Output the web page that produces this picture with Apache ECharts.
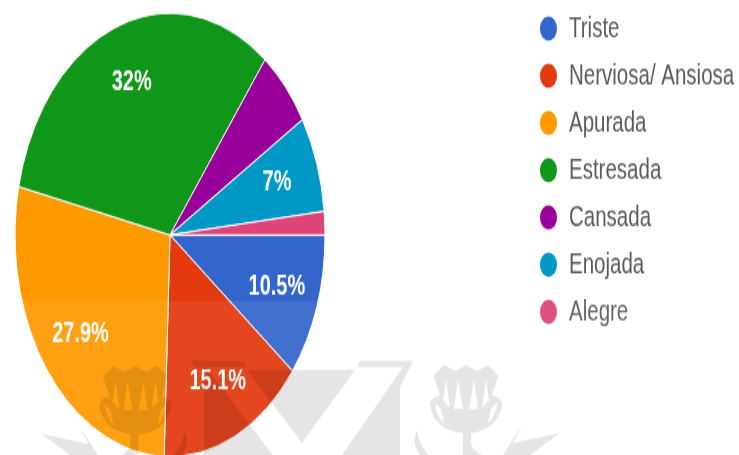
<!DOCTYPE html>
<html>
<head>
<meta charset="utf-8">
<style>
  html, body { margin: 0; padding: 0; background: #fff; overflow: hidden; }
  #frame { width: 739px; height: 455px; overflow: hidden; position: relative; }
  /* The chart is laid out at reduced height and stretched back vertically,
     which turns the pie and the legend dots into tall ellipses. */
  #chart { width: 739px; height: 318px; transform-origin: 0 0; transform: scaleY(1.4308); }
</style>
<script src="https://cdn.jsdelivr.net/npm/echarts@6/dist/echarts.min.js"></script>
</head>
<body>
<div id="frame"><div id="chart"></div></div>
<script>
const categories = ['Triste', 'Nerviosa/ Ansiosa', 'Apurada', 'Estresada', 'Cansada', 'Enojada', 'Alegre'];
const shares = [10.5, 15.1, 27.9, 32, 5.8, 7, 1.7];
const shownLabels = ['10.5%', '15.1%', '27.9%', '32%', '', '7%', ''];
const colors = ['#3366cc', '#e2390f', '#ff9900', '#109618', '#990099', '#0099c6', '#dd4477'];

const stretch = 1.4308;
const inkShade = 'rgba(0,0,0,0.1)';
const overlayZ = 100;

// Thistle emblem, centred on x = 0 with its crown at y = 0; inner subpaths wind the other way to cut holes.
const thistlePaths = {
  thistleBody:
    'M-32.5 11 L-22 0 L-11 6 L0 0 L11 6 L22 0 L32.5 11 L26 30 L33 33 L36 37 ' +
    'C36 50 28 60 19 64 C13 67 8 68 5 68 L5 78 C6 84 11 88 16 90 L-3 90 L-3 68 ' +
    'C-7 68 -13 67 -19 64 C-28 60 -36 50 -36 37 L-33 33 L-26 30 Z ' +
    'M-20 15 L-23 36 L-16 42 Z M-8 15 L-12 44 L-3 44 Z M8 15 L3 44 L12 44 Z M20 15 L16 42 L23 36 Z ' +
    'M-31 38 C-30 47 -27 53 -22 59 L-25 44 Z M31 38 L25 44 L22 59 C27 53 30 47 31 38 Z',
  thistleSprig: 'M37 90 L56 60 L47 78 L94 68 L64 90 Z',
  thistleLeaf: 'M-49 65 C-53 73 -52 82 -46 90 L-38 90 C-44 82 -48 74 -49 65 Z'
};
Object.keys(thistlePaths).forEach(name => {
  echarts.graphic.registerShape(name, echarts.graphic.extendPath(thistlePaths[name], {}));
});

function emblem(cx, top, mirrored) {
  return {
    type: 'group', x: cx, y: top, scaleX: mirrored ? -1 : 1,
    children: Object.keys(thistlePaths).map(name => ({ type: name, z: overlayZ, style: { fill: inkShade } }))
  };
}

function letterPart(points) {
  return { type: 'polygon', z: overlayZ, shape: { points }, style: { fill: inkShade } };
}

const chart = echarts.init(document.getElementById('chart'), null, { renderer: 'canvas' });
const pieCenter = [170, 164.2];
const data = categories.map((name, i) => ({ name, value: shares[i] }));

chart.setOption({
  animation: false,
  color: colors,
  legend: {
    orient: 'vertical', left: 533, top: 4.5, icon: 'circle',
    itemWidth: 19, itemHeight: 19, itemGap: 12,
    selectedMode: false,
    textStyle: { color: '#5a5a5a', fontFamily: 'Liberation Sans', fontSize: 20.5, padding: [0, 0, 0, 6] }
  },
  series: [
    {
      type: 'pie', center: pieCenter, radius: 155, startAngle: 0, clockwise: true,
      data, silent: true,
      itemStyle: { borderColor: '#fff', borderWidth: 1 },
      label: { show: false }, labelLine: { show: false }
    },
    {
      // Transparent ring used only to place the percentages near the rim.
      type: 'pie', center: pieCenter, radius: [65, 155], startAngle: 0, clockwise: true,
      data, silent: true, z: 3,
      itemStyle: { color: 'rgba(0,0,0,0)' },
      labelLine: { show: false },
      label: {
        show: true, position: 'inside', color: '#fff', fontFamily: 'Liberation Sans',
        fontSize: 20, fontWeight: 'bold',
        formatter: p => shownLabels[p.dataIndex]
      }
    }
  ],
  graphic: [{
    type: 'group', scaleY: 1 / stretch, silent: true,
    children: [
      { type: 'rect', z: overlayZ, shape: { x: 0, y: 301, width: 739, height: 154 }, style: { fill: 'rgba(255,255,255,0.07)' } },
      letterPart([[190,361],[243,361],[247,367],[206,367],[272,454],[272,455],[204,455],[204,367],[195,367]]),
      letterPart([[247,370],[355,370],[302,443]]),
      letterPart([[360,361],[413,361],[400,387],[400,455],[342,455],[403,367],[357,367]]),
      emblem(135.5, 366, true),
      emblem(466, 365, false)
    ]
  }]
});
</script>
</body>
</html>
